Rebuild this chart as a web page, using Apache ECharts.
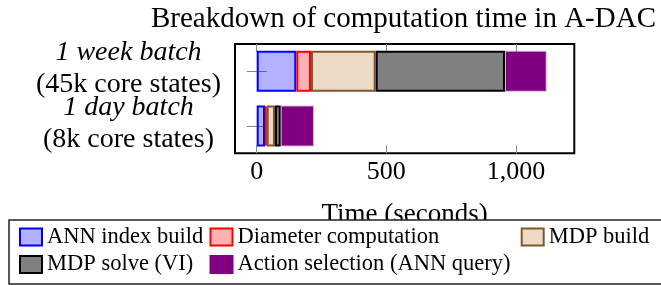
<!DOCTYPE html>
<html>
<head>
<meta charset="utf-8">
<script src="https://cdn.jsdelivr.net/npm/echarts@6/dist/echarts.min.js"></script>
<style>html,body{margin:0;padding:0;background:#fff}#c{width:661px;height:285px}</style>
</head>
<body>
<div id="c"></div>
<script>
const categories = [['1 week batch', '(45k core states)'], ['1 day batch', '(8k core states)']];
const seriesNames = ['ANN index build', 'Diameter computation', 'MDP build', 'MDP solve (VI)', 'Action selection (ANN query)'];
const annIndexBuild = [152.7, 32];
const diameterComputation = [56.7, 6.5];
const mdpBuild = [249.5, 32];
const mdpSolve = [498.7, 22];
const actionSelection = [160.8, 128.4];
const xTickValues = [0, 500, 1000];
const xTickLabels = ['0', '500', '1,000'];
const titleText = 'Breakdown of computation time in A-DAC';
const xAxisName = 'Time (seconds)';

const FONT = 'Liberation Serif';
const styles = [
  {color: 'rgba(0,0,255,0.3)', borderColor: '#0000ff', legendBorder: '#0000ff'},
  {color: 'rgba(255,0,0,0.3)', borderColor: '#ff0000', legendBorder: '#ff0000'},
  {color: '#ecd9c6', borderColor: '#80562f', legendBorder: '#80562f'},
  {color: '#808080', borderColor: '#000000', legendBorder: '#000000'},
  {color: '#800080', borderColor: 'rgba(128,0,128,0.3)', legendBorder: '#800080'}
];
const values = [annIndexBuild, diameterComputation, mdpBuild, mdpSolve, actionSelection];
const catKeys = categories.map(c => c.join('\n'));

const chart = echarts.init(document.getElementById('c'), null, {renderer: 'canvas'});
const series = seriesNames.map((n, i) => ({
  name: n, type: 'bar', stack: 'total', barWidth: 41,
  data: values[i],
  itemStyle: {color: styles[i].color, borderColor: styles[i].borderColor, borderWidth: 2},
  emphasis: {disabled: true}, animation: false
}));
const legendPos = [
  {left: 19, top: 225.5}, {left: 209.5, top: 225.5}, {left: 520.7, top: 225.5},
  {left: 19, top: 253}, {left: 209.5, top: 253}
];
const legends = seriesNames.map((n, i) => ({
  data: [n], left: legendPos[i].left, top: legendPos[i].top, padding: 0,
  icon: 'rect', itemWidth: 22, itemHeight: 17, itemGap: 0,
  itemStyle: {borderWidth: 2, borderColor: styles[i].legendBorder},
  textStyle: {fontFamily: FONT, fontSize: 22.5, color: '#000', lineHeight: 22},
  selectedMode: false, z: 10
}));
const xMin = -83.7, xMax = 1224.8;
chart.setOption({
  animation: false,
  title: {text: titleText, left: 403.5, textAlign: 'center', top: 5, padding: 0,
    textStyle: {fontFamily: FONT, fontSize: 29, fontWeight: 'normal', color: '#000'}},
  grid: {left: 235, top: 44, width: 339.3, height: 109.3, show: true, borderColor: '#000', borderWidth: 2, containLabel: false},
  legend: legends,
  xAxis: [{
    type: 'value', min: xMin, max: xMax, position: 'bottom',
    axisLine: {show: false}, splitLine: {show: false},
    axisTick: {show: true, inside: true, length: 8, customValues: xTickValues, lineStyle: {color: '#888', width: 1}},
    axisLabel: {customValues: xTickValues, formatter: v => xTickLabels[xTickValues.indexOf(v)], margin: 6,
      fontFamily: FONT, fontSize: 26, color: '#000'},
    name: xAxisName, nameLocation: 'middle', nameGap: 48,
    nameTextStyle: {fontFamily: FONT, fontSize: 27, color: '#000'}
  }, {
    type: 'value', min: xMin, max: xMax, position: 'top',
    axisLine: {show: false}, splitLine: {show: false},
    axisTick: {show: true, inside: true, length: 8, customValues: xTickValues, lineStyle: {color: '#888', width: 1}},
    axisLabel: {show: false}
  }],
  yAxis: [{
    type: 'category', data: catKeys, inverse: true, position: 'left',
    axisLine: {show: false}, splitLine: {show: false},
    axisTick: {show: true, inside: true, length: 10, alignWithLabel: true, interval: 0, lineStyle: {color: '#888', width: 1}},
    axisLabel: {interval: 0, hideOverlap: false, margin: 12, padding: [0, 0, 5, 0],
      formatter: (v) => { const p = v.split('\n'); return '{a|' + p[0] + '}\n{b|' + p[1] + '}'; },
      rich: {
        a: {fontFamily: FONT, fontSize: 28, fontStyle: 'italic', color: '#000', width: 189, align: 'center', lineHeight: 31.5},
        b: {fontFamily: FONT, fontSize: 28, color: '#000', width: 189, align: 'center', lineHeight: 31.5}
      }}
  }, {
    type: 'category', data: catKeys, inverse: true, position: 'right',
    axisLine: {show: false}, splitLine: {show: false},
    axisTick: {show: true, inside: true, length: 10, alignWithLabel: true, interval: 0, lineStyle: {color: '#888', width: 1}},
    axisLabel: {show: false}
  }],
  graphic: [{
    type: 'rect', z: 5, shape: {x: 9, y: 220, width: 700, height: 64},
    style: {fill: '#fff', stroke: '#222', lineWidth: 1.5}
  }],
  series: series
});
</script>
</body>
</html>
